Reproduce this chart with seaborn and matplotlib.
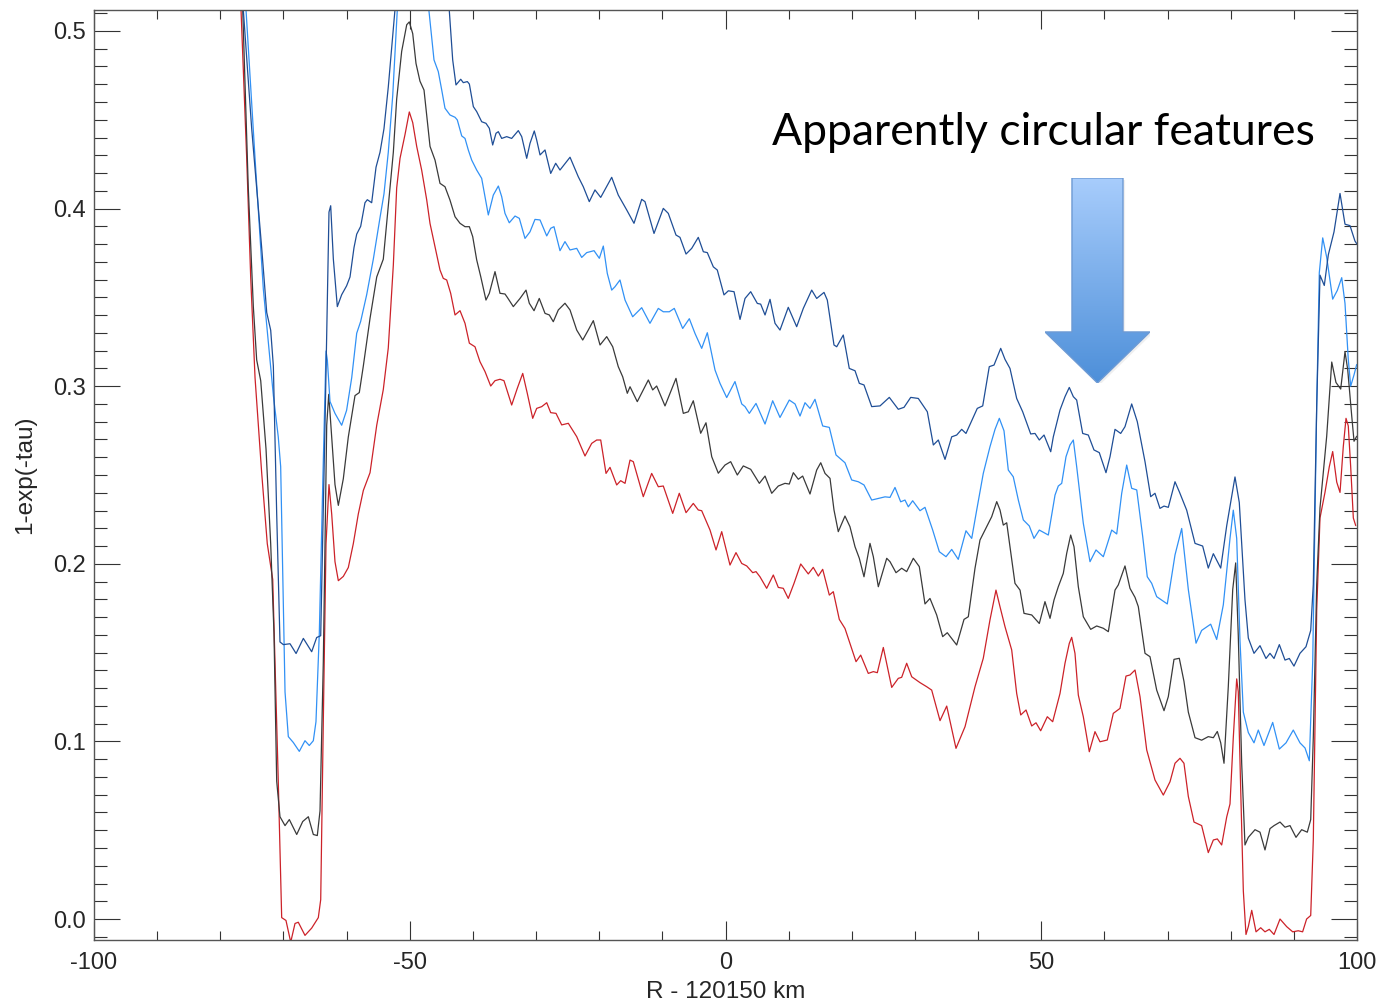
import matplotlib
matplotlib.use("Agg")
import numpy as np
import pandas as pd
import seaborn as sns
import matplotlib.pyplot as plt
from matplotlib.patches import Polygon
from matplotlib.colors import LinearSegmentedColormap
from matplotlib.ticker import MultipleLocator, FormatStrFormatter


# radial profiles (R - 120150 km, 1-exp(-tau))
navy_r = [-78.0, -76.36, -75.03, -73.45, -72.65, -72.02, -71.6, -71.07, -70.55, -70.02, -68.96, -68.0,
          -66.85, -65.53, -64.74, -64.1, -63.42, -62.79, -62.52, -62.1, -61.47, -60.78, -60.0, -59.46,
          -58.83, -58.4, -57.77, -57.09, -56.72, -56.03, -55.34, -54.71, -54.08, -53.4, -52.34, -50.0,
          -46.0, -44.0, -43.2, -42.68, -41.93, -41.52, -40.88, -40.56, -39.93, -39.4, -38.61, -37.93,
          -37.4, -36.87, -36.34, -35.97, -35.44, -34.65, -33.86, -32.81, -32.27, -31.48, -30.96, -30.28,
          -29.9, -29.37, -28.58, -27.68, -26.89, -26.21, -24.62, -23.31, -22.52, -21.57, -20.67, -19.76,
          -18.02, -16.98, -15.64, -14.49, -13.27, -12.75, -11.32, -9.85, -9.06, -7.84, -7.21, -6.25,
          -5.35, -4.31, -3.51, -2.88, -1.93, -1.3, -0.24, 0.45, 1.35, 2.3, 3.09, 3.99, 5.04, 5.57, 6.26,
          7.05, 7.84, 8.63, 9.94, 11.27, 12.32, 13.65, 14.44, 15.6, 16.12, 17.18, 17.61, 18.65, 19.6,
          20.51, 21.19, 21.93, 23.15, 24.47, 25.94, 27.36, 28.27, 29.33, 30.53, 31.96, 32.91, 33.7,
          34.76, 35.82, 36.61, 37.4, 38.08, 39.87, 40.73, 41.77, 42.52, 43.58, 44.26, 45.05, 46.11,
          47.06, 48.33, 49.01, 49.69, 50.44, 51.5, 51.91, 52.97, 53.76, 54.44, 55.08, 55.61, 56.56,
          57.45, 58.35, 59.19, 60.25, 60.89, 61.68, 62.58, 63.26, 64.32, 65.21, 66.43, 67.33, 68.01,
          68.8, 69.44, 70.12, 71.18, 71.86, 73.03, 74.35, 75.56, 76.45, 77.25, 78.42, 79.37, 80.68,
          81.36, 82.26, 82.79, 83.69, 84.64, 85.59, 86.22, 86.86, 87.7, 88.6, 89.28, 90.02, 90.97,
          91.92, 92.67, 93.08, 93.62, 94.14, 94.82, 95.46, 96.36, 97.31, 98.1, 98.89, 99.68, 100.0]
navy_val = [0.6, 0.512, 0.445, 0.378, 0.3415, 0.3315, 0.3114, 0.228, 0.156, 0.1545, 0.155, 0.1495,
            0.158, 0.1505, 0.1585, 0.1595, 0.278, 0.398, 0.4016, 0.3716, 0.3448, 0.3515, 0.3565, 0.3615,
            0.378, 0.3856, 0.39, 0.4033, 0.405, 0.4033, 0.4233, 0.4317, 0.445, 0.4684, 0.512, 0.56,
            0.55, 0.525, 0.4837, 0.4696, 0.4728, 0.4709, 0.4715, 0.4701, 0.4574, 0.4546, 0.4489, 0.448,
            0.4452, 0.4358, 0.4424, 0.4433, 0.4395, 0.4405, 0.4395, 0.4439, 0.4405, 0.4283, 0.4367, 0.4437,
            0.4386, 0.4302, 0.433, 0.4198, 0.4255, 0.4217, 0.4289, 0.4179, 0.4123, 0.4039, 0.4105, 0.4063,
            0.4176, 0.4076, 0.3992, 0.3917, 0.4052, 0.4039, 0.386, 0.4001, 0.3973, 0.3851, 0.3838, 0.3744,
            0.3776, 0.3838, 0.3757, 0.3752, 0.3672, 0.3654, 0.3514, 0.3537, 0.3532, 0.3376, 0.3494, 0.3532,
            0.3466, 0.3462, 0.3401, 0.3489, 0.3354, 0.3316, 0.3444, 0.3335, 0.3438, 0.3541, 0.3494, 0.3528,
            0.3485, 0.3232, 0.3222, 0.3288, 0.31, 0.3087, 0.3016, 0.3007, 0.2885, 0.2889, 0.2937, 0.287,
            0.2881, 0.2937, 0.2931, 0.2856, 0.2669, 0.2697, 0.2588, 0.2715, 0.2725, 0.2757, 0.2734, 0.2875,
            0.2889, 0.311, 0.3119, 0.3213, 0.3151, 0.31, 0.2931, 0.2856, 0.2731, 0.2734, 0.2697, 0.2725,
            0.2631, 0.2715, 0.2866, 0.2941, 0.2993, 0.2941, 0.2922, 0.2734, 0.2725, 0.2641, 0.2626, 0.2513,
            0.2603, 0.2757, 0.2734, 0.2772, 0.29, 0.28, 0.2575, 0.2378, 0.2397, 0.2312, 0.2325, 0.2318,
            0.2462, 0.2406, 0.2302, 0.2115, 0.21, 0.1976, 0.2057, 0.1976, 0.2215, 0.2489, 0.2345, 0.1798,
            0.1582, 0.1496, 0.1539, 0.1467, 0.1496, 0.1467, 0.1545, 0.1458, 0.1467, 0.1424, 0.1496, 0.1533,
            0.1625, 0.1884, 0.2891, 0.3625, 0.3567, 0.374, 0.3869, 0.4085, 0.3912, 0.3904, 0.3817, 0.38]

light_r = [-78.0, -75.93, -74.5, -73.19, -72.4, -71.6, -70.82, -70.44, -70.12, -69.75, -69.23, -68.44,
           -67.49, -66.59, -65.91, -65.27, -64.85, -64.32, -63.78, -63.26, -63.05, -62.63, -61.84, -60.78,
           -60.0, -59.19, -58.4, -57.77, -56.82, -55.77, -54.71, -54.08, -53.4, -52.7, -52.18, -51.97,
           -50.0, -47.5, -46.16, -45.48, -44.94, -44.42, -43.63, -42.83, -42.47, -41.77, -41.25, -40.73,
           -40.19, -39.4, -38.61, -38.08, -37.56, -36.77, -35.97, -35.44, -34.92, -34.24, -33.33, -32.65,
           -31.75, -30.96, -30.17, -29.37, -28.31, -27.68, -27.16, -26.21, -25.42, -24.62, -23.56, -22.77,
           -21.98, -20.82, -19.98, -19.35, -18.72, -18.02, -17.5, -16.71, -15.91, -14.7, -13.27, -11.96,
           -10.64, -9.85, -8.9, -8.11, -6.78, -5.73, -4.83, -3.77, -2.88, -1.66, -0.87, 0.19, 1.5, 2.57,
           3.09, 3.77, 4.83, 6.26, 7.47, 8.63, 10.1, 11.01, 11.8, 12.59, 13.38, 14.17, 15.39, 16.44, 17.5,
           18.92, 19.98, 21.03, 21.93, 23.15, 24.2, 25.26, 26.05, 26.84, 27.74, 28.42, 28.95, 29.64, 30.8,
           31.59, 32.81, 33.86, 34.92, 35.82, 36.86, 38.08, 38.99, 39.78, 40.82, 41.88, 42.68, 43.36, 44.1,
           44.78, 45.57, 46.37, 47.16, 48.11, 48.85, 49.69, 51.12, 52.18, 52.7, 53.24, 53.92, 54.55, 55.08,
           55.61, 56.66, 57.72, 58.67, 59.83, 61.16, 61.95, 62.74, 63.53, 64.32, 65.12, 66.07, 66.79,
           67.49, 68.28, 69.96, 71.18, 72.24, 73.29, 74.51, 75.4, 76.83, 77.78, 78.83, 79.89, 80.41, 80.95,
           81.47, 82.0, 82.79, 83.69, 84.37, 85.27, 86.65, 87.7, 88.76, 89.91, 90.97, 91.77, 92.45, 92.99,
           93.62, 94.03, 94.57, 95.2, 96.15, 96.88, 97.58, 98.1, 98.62, 99.0, 99.53, 99.95]
light_val = [0.6, 0.512, 0.4283, 0.3548, 0.3248, 0.2948, 0.2714, 0.2547, 0.1945, 0.1278, 0.1027, 0.0994,
             0.0944, 0.1004, 0.0977, 0.1004, 0.1111, 0.1611, 0.2446, 0.3198, 0.3148, 0.2914, 0.2847, 0.278,
             0.2864, 0.3048, 0.3298, 0.3365, 0.3515, 0.3715, 0.3949, 0.4083, 0.4317, 0.4634, 0.4985, 0.512,
             0.535, 0.53, 0.4837, 0.4771, 0.4668, 0.4565, 0.4527, 0.4514, 0.4499, 0.4409, 0.4395, 0.433,
             0.4273, 0.4217, 0.417, 0.4067, 0.3964, 0.4076, 0.4127, 0.4067, 0.3973, 0.392, 0.3958, 0.3945,
             0.3832, 0.3869, 0.3939, 0.3936, 0.3846, 0.3889, 0.3898, 0.3763, 0.3814, 0.3767, 0.3776, 0.3725,
             0.3752, 0.3763, 0.372, 0.3789, 0.3635, 0.3541, 0.356, 0.3598, 0.3485, 0.3391, 0.3442, 0.3354,
             0.3438, 0.3419, 0.3419, 0.3438, 0.3325, 0.338, 0.3297, 0.3213, 0.3301, 0.3091, 0.3016, 0.2936,
             0.3026, 0.29, 0.2885, 0.2847, 0.2903, 0.2787, 0.2918, 0.2824, 0.2922, 0.29, 0.2832, 0.2907,
             0.2875, 0.2926, 0.2776, 0.2768, 0.2613, 0.2569, 0.2472, 0.2462, 0.2444, 0.2359, 0.2368, 0.2377,
             0.2374, 0.243, 0.2349, 0.2359, 0.2321, 0.2355, 0.2299, 0.2318, 0.219, 0.2068, 0.204, 0.2081,
             0.2025, 0.2186, 0.2143, 0.2303, 0.2509, 0.2659, 0.2757, 0.2819, 0.2749, 0.2528, 0.249, 0.2359,
             0.2247, 0.2213, 0.2143, 0.219, 0.2162, 0.2387, 0.2438, 0.2453, 0.2603, 0.2669, 0.2697, 0.2547,
             0.2228, 0.2012, 0.2078, 0.204, 0.219, 0.2168, 0.2397, 0.2556, 0.2425, 0.2416, 0.2152, 0.1927,
             0.189, 0.1815, 0.1774, 0.205, 0.2199, 0.1855, 0.1553, 0.1625, 0.166, 0.1574, 0.1769, 0.2143,
             0.2302, 0.2143, 0.1568, 0.1165, 0.105, 0.0992, 0.1064, 0.0977, 0.1107, 0.0957, 0.0992, 0.1064,
             0.0992, 0.0963, 0.0891, 0.1453, 0.2891, 0.3639, 0.3835, 0.3726, 0.349, 0.3539, 0.3611, 0.3466,
             0.315, 0.3, 0.3064, 0.3122]

black_r = [-78.0, -76.45, -75.57, -74.77, -74.24, -73.6, -72.76, -72.02, -71.5, -71.07, -70.55, -69.75,
           -69.07, -67.9, -66.95, -66.06, -65.27, -64.64, -64.21, -63.69, -63.15, -62.83, -62.36, -61.84,
           -61.31, -60.52, -59.73, -58.67, -57.99, -57.35, -56.29, -55.23, -54.19, -53.4, -52.6, -52.07,
           -51.28, -50.48, -50.07, -49.53, -49.01, -48.38, -47.74, -46.79, -46.0, -45.21, -44.42, -43.63,
           -42.83, -42.04, -41.25, -40.56, -40.03, -39.4, -38.76, -37.93, -37.4, -36.5, -35.71, -34.92,
           -34.55, -33.6, -32.54, -31.59, -31.07, -30.32, -29.49, -28.58, -27.9, -27.27, -26.48, -25.42,
           -24.62, -23.56, -22.61, -21.73, -20.93, -19.87, -18.81, -17.86, -16.98, -16.28, -15.55, -15.12,
           -13.97, -12.22, -11.53, -10.9, -9.58, -7.84, -6.68, -5.89, -5.1, -3.93, -3.09, -2.18, -1.14,
           -0.08, 0.82, 1.87, 2.82, 3.99, 5.36, 6.26, 7.32, 8.36, 9.42, 10.1, 10.74, 11.53, 12.22, 13.38,
           14.44, 15.08, 15.76, 16.55, 17.18, 17.86, 18.92, 19.71, 20.51, 21.19, 21.93, 22.88, 23.41, 24.2,
           25.53, 26.05, 27.0, 27.9, 28.69, 29.74, 30.69, 31.59, 32.38, 33.44, 34.39, 35.12, 36.61, 37.77,
           38.45, 39.51, 40.3, 41.36, 42.15, 42.95, 43.47, 43.99, 44.53, 45.84, 46.64, 47.27, 48.49, 49.69,
           50.59, 51.39, 52.02, 52.7, 53.49, 54.03, 54.66, 55.19, 55.87, 56.66, 57.83, 58.78, 59.83, 60.62,
           61.68, 62.2, 63.26, 64.05, 64.85, 65.37, 66.43, 67.22, 68.28, 69.44, 70.12, 71.02, 71.86, 72.6,
           73.29, 74.35, 75.4, 76.45, 77.25, 77.88, 78.42, 78.94, 79.62, 80.32, 80.79, 81.2, 81.74, 82.26,
           82.79, 83.85, 84.64, 85.43, 86.22, 86.86, 87.81, 88.6, 89.39, 90.34, 91.24, 92.13, 92.67, 93.08,
           93.62, 94.14, 95.2, 96.0, 96.67, 97.42, 98.1, 98.53, 99.16, 99.53, 99.95]
black_val = [0.6, 0.512, 0.4116, 0.3448, 0.3148, 0.3031, 0.2646, 0.2112, 0.1611, 0.0776, 0.0576, 0.0526,
             0.056, 0.0476, 0.0549, 0.0576, 0.0476, 0.047, 0.0609, 0.1445, 0.278, 0.2954, 0.2714, 0.2446,
             0.2329, 0.2479, 0.2714, 0.2947, 0.2964, 0.3114, 0.3382, 0.3615, 0.3715, 0.4016, 0.4317, 0.4617,
             0.4885, 0.5035, 0.5051, 0.4985, 0.4817, 0.4717, 0.4667, 0.435, 0.4273, 0.4142, 0.4123, 0.4048,
             0.3954, 0.3917, 0.3898, 0.3898, 0.3842, 0.3711, 0.3617, 0.3485, 0.3523, 0.3645, 0.3523, 0.3519,
             0.35, 0.3448, 0.3494, 0.3541, 0.3467, 0.3425, 0.3494, 0.341, 0.3401, 0.3363, 0.3429, 0.3467,
             0.3429, 0.3316, 0.326, 0.3316, 0.3369, 0.3232, 0.3279, 0.3222, 0.311, 0.3053, 0.296, 0.2997,
             0.2913, 0.3035, 0.2979, 0.3001, 0.2889, 0.3044, 0.2847, 0.2856, 0.2918, 0.2735, 0.2794, 0.2603,
             0.251, 0.2556, 0.2575, 0.25, 0.2551, 0.2532, 0.2453, 0.2494, 0.2397, 0.2438, 0.2453, 0.2449,
             0.2513, 0.2476, 0.2494, 0.2393, 0.2528, 0.2569, 0.2509, 0.2481, 0.2303, 0.2181, 0.2269, 0.2209,
             0.2096, 0.2031, 0.1927, 0.2115, 0.204, 0.1871, 0.2031, 0.2012, 0.195, 0.1975, 0.1956, 0.2031,
             0.1984, 0.1774, 0.1805, 0.1712, 0.159, 0.1612, 0.1543, 0.1687, 0.1702, 0.1975, 0.2134, 0.2209,
             0.2265, 0.235, 0.2303, 0.2218, 0.2231, 0.189, 0.1852, 0.1721, 0.1712, 0.1664, 0.1787, 0.1693,
             0.1796, 0.1871, 0.1946, 0.2059, 0.2162, 0.2096, 0.1871, 0.1702, 0.1631, 0.165, 0.1637, 0.1618,
             0.1852, 0.1881, 0.1988, 0.1862, 0.1811, 0.1759, 0.1496, 0.1477, 0.1289, 0.1173, 0.1252, 0.1462,
             0.1468, 0.1338, 0.1165, 0.1021, 0.1007, 0.1027, 0.1021, 0.1056, 0.0992, 0.0877, 0.1309, 0.1855,
             0.2005, 0.1596, 0.0877, 0.0417, 0.046, 0.0503, 0.0489, 0.0389, 0.0509, 0.0526, 0.0546, 0.0517,
             0.0526, 0.046, 0.0503, 0.0489, 0.056, 0.1021, 0.1884, 0.2315, 0.2718, 0.3136, 0.3021, 0.2984,
             0.3194, 0.3093, 0.2834, 0.269, 0.2718]

red_r = [-78.0, -76.72, -75.82, -75.19, -74.5, -73.45, -72.56, -71.7, -71.34, -70.82, -70.28, -69.6,
         -68.85, -68.17, -67.65, -66.59, -65.53, -64.48, -64.1, -63.69, -63.26, -62.79, -62.36, -61.84,
         -61.31, -60.52, -59.73, -58.94, -58.15, -57.35, -56.29, -55.23, -54.19, -53.4, -52.6, -52.07,
         -51.54, -50.75, -50.07, -49.53, -48.9, -48.11, -47.32, -46.79, -46.0, -45.21, -44.69, -44.15,
         -43.52, -42.83, -42.04, -41.25, -40.56, -39.67, -38.88, -38.08, -37.18, -36.5, -35.71, -35.08,
         -33.86, -32.97, -32.11, -31.39, -30.53, -29.9, -29.1, -28.31, -27.68, -26.84, -25.94, -24.89,
         -23.56, -22.25, -21.19, -20.4, -19.76, -18.92, -18.29, -17.23, -16.6, -15.91, -15.12, -14.6,
         -13.02, -11.69, -10.64, -9.85, -8.36, -7.32, -6.25, -5.1, -4.31, -3.77, -2.45, -1.5, -0.6, 0.71,
         1.66, 2.57, 3.36, 4.31, 4.83, 5.46, 6.52, 7.57, 8.36, 9.15, 9.94, 10.85, 11.91, 13.11, 13.9, 14.7,
         15.39, 16.44, 17.07, 18.02, 18.92, 19.71, 20.67, 21.41, 22.61, 23.41, 24.04, 24.99, 26.32, 27.36,
         27.9, 28.69, 29.49, 30.8, 31.86, 32.65, 33.97, 35.03, 36.5, 37.93, 39.51, 40.82, 41.88, 42.83,
         43.47, 44.26, 45.32, 46.11, 46.75, 47.59, 48.49, 49.17, 49.91, 50.96, 51.81, 52.97, 53.76, 54.44,
         54.82, 55.34, 55.87, 56.66, 57.61, 58.51, 59.3, 60.46, 61.41, 62.47, 63.42, 64.05, 64.85, 65.64,
         66.7, 68.01, 69.33, 70.39, 71.18, 71.97, 72.6, 73.29, 74.19, 75.4, 76.45, 77.25, 77.88, 78.57,
         79.37, 79.89, 80.41, 80.95, 81.2, 81.58, 82.0, 82.42, 82.79, 83.33, 84.01, 84.75, 85.43, 86.11,
         86.86, 87.81, 88.87, 89.82, 90.7, 91.39, 92.02, 92.67, 93.08, 93.62, 94.14, 94.93, 95.61, 96.15,
         96.79, 97.31, 97.83, 98.26, 98.62, 99.0, 99.42, 99.8]
red_val = [0.6, 0.512, 0.4283, 0.3615, 0.3048, 0.2513, 0.2113, 0.1912, 0.1445, 0.0776, 0.0008, -0.0008,
           -0.013, -0.0025, -0.0018, -0.0092, -0.0051, 0.0008, 0.0109, 0.1111, 0.2113, 0.2446, 0.228, 0.2012,
           0.1905, 0.1929, 0.1979, 0.2113, 0.228, 0.2413, 0.2513, 0.278, 0.2981, 0.3215, 0.3682, 0.4116,
           0.4283, 0.4417, 0.4544, 0.4484, 0.435, 0.4216, 0.405, 0.3916, 0.3786, 0.3654, 0.3607, 0.3598,
           0.3523, 0.3401, 0.3425, 0.3354, 0.3242, 0.3222, 0.3138, 0.3082, 0.3001, 0.3031, 0.3039, 0.3031,
           0.2894, 0.2988, 0.3072, 0.296, 0.2819, 0.2875, 0.2885, 0.2907, 0.2851, 0.2847, 0.2782, 0.2791,
           0.2716, 0.2607, 0.2678, 0.2697, 0.2697, 0.2509, 0.2543, 0.2444, 0.2468, 0.2453, 0.2584, 0.2575,
           0.2378, 0.2509, 0.2434, 0.2438, 0.2284, 0.2397, 0.2288, 0.234, 0.2303, 0.2299, 0.219, 0.2078,
           0.2181, 0.1993, 0.2063, 0.2002, 0.1988, 0.195, 0.1956, 0.1927, 0.1862, 0.1937, 0.1867, 0.1862,
           0.1805, 0.189, 0.1999, 0.1943, 0.198, 0.1931, 0.1969, 0.1824, 0.1843, 0.1687, 0.1636, 0.1552,
           0.1449, 0.1486, 0.1383, 0.1393, 0.1387, 0.1529, 0.1304, 0.1355, 0.1361, 0.144, 0.1364, 0.1331,
           0.1308, 0.1289, 0.1117, 0.1199, 0.0961, 0.1083, 0.1308, 0.1468, 0.1684, 0.1852, 0.1758, 0.1646,
           0.1515, 0.127, 0.1149, 0.1177, 0.1087, 0.1105, 0.106, 0.1139, 0.1111, 0.127, 0.144, 0.1552,
           0.1586, 0.1496, 0.1261, 0.1139, 0.0942, 0.1055, 0.0998, 0.1008, 0.1158, 0.1186, 0.1368, 0.1374,
           0.1402, 0.1252, 0.0952, 0.0783, 0.0698, 0.0773, 0.0877, 0.0905, 0.0877, 0.069, 0.0546, 0.0526,
           0.0374, 0.0445, 0.0451, 0.0417, 0.0575, 0.0648, 0.1021, 0.1352, 0.128, 0.0734, 0.0158, -0.0087,
           -0.0043, 0.0049, -0.0072, -0.0049, -0.0072, -0.0058, -0.0087, 0.0, -0.0043, -0.0072, -0.0066,
           -0.0072, 0.0, 0.002, 0.0446, 0.174, 0.2258, 0.2402, 0.2546, 0.2632, 0.246, 0.2402, 0.266, 0.2819,
           0.2776, 0.2546, 0.2258, 0.2215]

scan_names = ["scan 1", "scan 2", "scan 3", "scan 4"]
scan_colors = ["#cc2229", "#3a3a3a", "#3191f5", "#1f4e96"]

annotation = "Apparently circular features"


def build_frame():
    # long format table so seaborn can colour by scan
    parts = []
    for name, r, v in zip(scan_names, [red_r, black_r, light_r, navy_r],
                          [red_val, black_val, light_val, navy_val]):
        parts.append(pd.DataFrame({"r": r, "val": v, "scan": name}))
    return pd.concat(parts, ignore_index=True)


def draw_arrow(fig):
    # gradient block arrow in its own little axes
    aax = fig.add_axes([0.7556, 0.6189, 0.0759, 0.204])
    aax.set_xlim(0, 1)
    aax.set_ylim(0, 1)
    aax.axis("off")
    aax.patch.set_alpha(0)
    verts = [(0.257, 1.0), (0.743, 1.0), (0.743, 0.249), (1.0, 0.249),
             (0.5, 0.0), (0.0, 0.249), (0.257, 0.249)]
    shadow = Polygon([(x + 0.02, y - 0.01) for x, y in verts], closed=True,
                     facecolor="#999999", edgecolor="none", alpha=0.15, zorder=0)
    aax.add_patch(shadow)
    cmap = LinearSegmentedColormap.from_list("arrow", ["#4d8fd9", "#a8cdfc"])
    grad = np.linspace(0, 1, 256).reshape(-1, 1)
    im = aax.imshow(grad, extent=[0, 1, 0, 1], origin="lower", cmap=cmap,
                    aspect="auto", zorder=1)
    poly = Polygon(verts, closed=True, facecolor="none", edgecolor="#6d9ad4",
                   lw=1.0, zorder=2)
    aax.add_patch(poly)
    im.set_clip_path(poly)


def main():
    sns.set_style("ticks")
    plt.rcParams["font.family"] = ["Liberation Sans", "DejaVu Sans"]
    plt.rcParams["axes.unicode_minus"] = False

    fig = plt.figure(figsize=(13.83, 10.05), dpi=100)
    ax = fig.add_axes([0.06797, 0.06468, 0.91323, 0.92537])

    df = build_frame()
    sns.lineplot(data=df, x="r", y="val", hue="scan", hue_order=scan_names,
                 palette=dict(zip(scan_names, scan_colors)), estimator=None,
                 sort=False, legend=False, linewidth=0.9, ax=ax)

    ax.set_xlim(-100, 100)
    ax.set_ylim(-0.0118, 0.5118)
    ax.xaxis.set_major_locator(MultipleLocator(50))
    ax.xaxis.set_minor_locator(MultipleLocator(10))
    ax.yaxis.set_major_locator(MultipleLocator(0.1))
    ax.yaxis.set_minor_locator(MultipleLocator(0.01))
    ax.yaxis.set_major_formatter(FormatStrFormatter("%.1f"))

    ax.tick_params(axis="x", which="major", direction="in", length=13.5, width=0.8,
                   top=True, labelsize=17, pad=9, color="#333333")
    ax.tick_params(axis="x", which="minor", direction="in", length=6.5, width=0.8,
                   top=True, color="#333333")
    ax.tick_params(axis="y", which="major", direction="in", length=18.7, width=0.8,
                   right=True, labelsize=17, pad=6, color="#333333")
    ax.tick_params(axis="y", which="minor", direction="in", length=9.4, width=0.8,
                   right=True, color="#333333")
    for s in ax.spines.values():
        s.set_color("#555555")
        s.set_linewidth(1.0)

    ax.set_xlabel("R - 120150 km", fontsize=17.5)
    ax.xaxis.set_label_coords(0.5, -0.044)
    ax.set_ylabel("1-exp(-tau)", fontsize=17.5)
    ax.yaxis.set_label_coords(-0.046, 0.5)

    # callout text, sized to the width it has in the original slide
    txt = ax.text(0.5368, 0.8548, annotation, transform=ax.transAxes, fontsize=34,
                  family=["Lato", "DejaVu Sans"], ha="left", va="baseline", color="black")
    fig.canvas.draw()
    w = txt.get_window_extent().width
    txt.set_fontsize(34 * 544 / w)

    draw_arrow(fig)
    fig.savefig("out.png", dpi=100)


if __name__ == "__main__":
    main()
